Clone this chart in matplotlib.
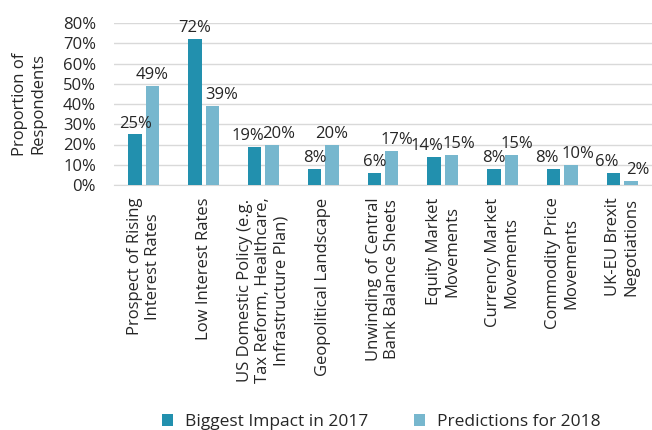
import matplotlib.pyplot as plt
import numpy as np

plt.rcParams['font.family'] = ['Open Sans', 'DejaVu Sans']

categories = ['Prospect of Rising\nInterest Rates', 'Low Interest Rates',
              'US Domestic Policy (e.g.\nTax Reform, Healthcare,\nInfrastructure Plan)',
              'Geopolitical Landscape', 'Unwinding of Central\nBank Balance Sheets',
              'Equity Market\nMovements', 'Currency Market\nMovements',
              'Commodity Price\nMovements', 'UK-EU Brexit\nNegotiations']
impact_2017 = [25, 72, 19, 8, 6, 14, 8, 8, 6]
pred_2018 = [49, 39, 20, 20, 17, 15, 15, 10, 2]

dark = '#2290ae'
light = '#77b7ce'
txt = '#262626'

fig = plt.figure(figsize=(6.52, 4.30), dpi=100)
ax = fig.add_axes([114/652, 1 - 185/430, 538/652, 162/430])

x = np.arange(len(categories))
w = 0.225
gap = 0.066
b1 = ax.bar(x - w/2 - gap/2, impact_2017, w, color=dark, label='Biggest Impact in 2017', zorder=3)
b2 = ax.bar(x + w/2 + gap/2, pred_2018, w, color=light, label='Predictions for 2018', zorder=3)

# nudge value labels so they don't run into each other / the other bar
for i in range(len(categories)):
    a, b = impact_2017[i], pred_2018[i]
    if abs(a - b) < 6:
        d1, d2 = -5, 5
    elif a > b:
        d1, d2 = 0, 7
    elif b - a < 12:
        d1, d2 = 0, 4
    else:
        d1, d2 = 0, 0
    for bar, v, d in ((b1[i], a, d1), (b2[i], b, d2)):
        ax.annotate('%d%%' % v, (bar.get_x() + bar.get_width()/2, v),
                    xytext=(d, 2), textcoords='offset points',
                    ha='center', va='bottom', fontsize=12, color=txt)

ax.set_xlim(-0.5, len(categories) - 0.5)
ax.set_ylim(0, 80)
ax.set_yticks(range(0, 81, 10))
ax.set_yticklabels(['%d%%' % t for t in range(0, 81, 10)], fontsize=12, color=txt)
ax.yaxis.grid(True, color='#d9d9d9', lw=1, zorder=0)
for s in ['top', 'right', 'left']:
    ax.spines[s].set_visible(False)
ax.spines['bottom'].set_color('#d9d9d9')
ax.tick_params(length=0)
ax.tick_params(axis='y', pad=13)
ax.set_xticks(x)
ax.set_xticklabels(categories, rotation=90, fontsize=12, color=txt,
                   ha='center', va='top', multialignment='center')
ax.tick_params(axis='x', pad=9)
ax.set_ylabel('Proportion of\nRespondents', fontsize=12, color=txt, labelpad=12)

fig.legend(handles=[b1, b2], loc='center', bbox_to_anchor=(0.585, 0.019), ncol=2,
           frameon=False, fontsize=12.5, handlelength=0.65, handleheight=0.65,
           columnspacing=2.6, handletextpad=0.7, labelcolor=txt)

fig.savefig('out.png', dpi=100)
